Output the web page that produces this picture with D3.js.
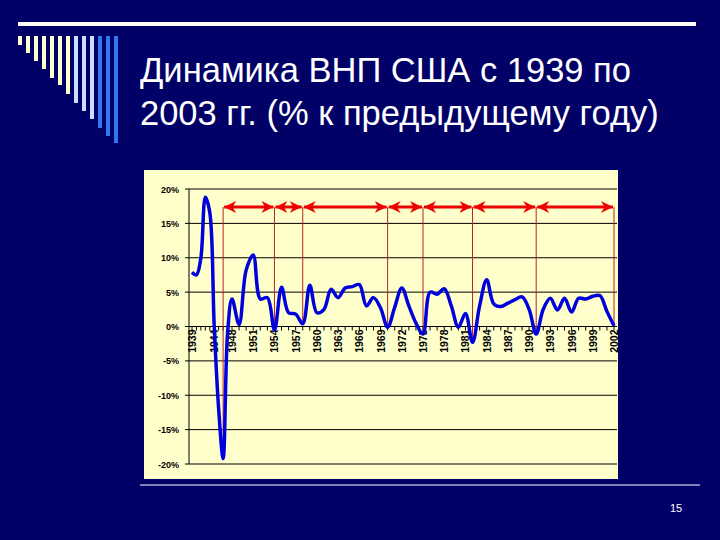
<!DOCTYPE html>
<html><head><meta charset="utf-8">
<script src="https://cdn.jsdelivr.net/npm/d3@7"></script>
<style>body{margin:0;background:#000066}svg{display:block}</style>
</head><body>
<svg id="c" width="720" height="540"></svg>
<script>
const years = d3.range(1939, 2003);
const values = [7.9,7.5,10,18.8,16.6,0,-12,-19.2,-1,4,0.3,8.2,10.4,4,4.2,-0.5,5.7,2,1.8,0.4,6,2,2.5,5.4,4.2,5.6,5.8,6.1,3,4.2,2.7,-0.1,2.8,5.6,3.0,0.5,-1.1,5,4.7,5.5,3,-0.1,1.9,-2.3,3,6.8,3.3,2.9,3.4,3.9,4.3,2.5,-1.1,2.5,4.1,2.4,4.1,2.1,4.1,4.0,4.4,4.5,2.2,0.1];
const tickYears = [1939,1944,1948].concat(d3.range(1951, 2003, 3));
const yTicks = [20,15,10,5,0,-5,-10,-15,-20];
const cycleYears = [1946,1954,1958,1970,1975,1982,1991,2002];
const title = ["Динамика ВНП США с 1939 по","2003 гг. (% к предыдущему году)"];

const svg = d3.select("#c");
svg.append("rect").attr("x",18).attr("y",22).attr("width",678).attr("height",4).attr("fill","#fff");
const barBottoms=[45,53,61,69,78,85,94,103,111,119,128,136,143];
barBottoms.forEach((b,i)=>svg.append("rect").attr("x",18+i*8).attr("y",36).attr("width",4).attr("height",b-36)
  .attr("fill", i<7?"#FFFFCC":(i<10?"#CCDDFF":"#3377EE")));
title.forEach((t,i)=>svg.append("text").attr("x",140).attr("y",82+i*43).attr("fill","#fff")
  .attr("font-family","Liberation Sans, Arial").attr("font-size",34.5).text(t));
svg.append("line").attr("x1",140).attr("x2",700).attr("y1",485).attr("y2",485).attr("stroke","#fff").attr("stroke-width",1);
svg.append("text").attr("x",676).attr("y",512).attr("text-anchor","middle").attr("fill","#fff")
  .attr("font-family","Liberation Sans, Arial").attr("font-size",11).text("15");

svg.append("rect").attr("x",144).attr("y",170).attr("width",474).attr("height",309).attr("fill","#FFFFCC");
const x = d3.scaleLinear().domain([1939,1948,2002]).range([192,232,614]);
const y = d3.scaleLinear().domain([-20,20]).range([464,189]);
const g = svg.append("g");
yTicks.forEach(v=>{
  g.append("line").attr("x1",189).attr("x2",617).attr("y1",y(v)).attr("y2",y(v)).attr("stroke","#000").attr("stroke-width",1);
  g.append("text").attr("x",179).attr("y",y(v)+3.5).attr("text-anchor","end")
   .attr("font-family","Liberation Sans, Arial").attr("font-weight","bold").attr("font-size",9).text(v+"%");
  g.append("line").attr("x1",185).attr("x2",189).attr("y1",y(v)).attr("y2",y(v)).attr("stroke","#000");
});
g.append("line").attr("x1",189).attr("x2",189).attr("y1",y(20)).attr("y2",y(-20)).attr("stroke","#000");
years.forEach(yr=>g.append("line").attr("x1",x(yr)).attr("x2",x(yr)).attr("y1",y(0)).attr("y2",y(0)+4).attr("stroke","#000"));
tickYears.forEach(yr=>g.append("text").attr("transform",`translate(${x(yr)+4},${y(0)+3}) rotate(-90)`)
  .attr("text-anchor","end").attr("font-family","Liberation Sans, Arial").attr("font-weight","bold").attr("font-size",10.5).text(yr));

const ay = 207;
cycleYears.forEach(yr=>{
  const v = values[years.indexOf(yr)];
  g.append("line").attr("x1",x(yr)).attr("x2",x(yr)).attr("y1",ay).attr("y2",y(v)).attr("stroke","#B22").attr("stroke-width",1);
});
const defs = svg.append("defs");
defs.append("marker").attr("id","ah").attr("viewBox","0 0 10 10").attr("refX",10).attr("refY",5)
  .attr("markerWidth",4).attr("markerHeight",4).attr("orient","auto-start-reverse")
  .append("path").attr("d","M0,0 L10,5 L0,10 L3,5 Z").attr("fill","#E00");
for(let i=0;i<cycleYears.length-1;i++){
  g.append("line").attr("x1",x(cycleYears[i])+1).attr("x2",x(cycleYears[i+1])-1).attr("y1",ay).attr("y2",ay)
   .attr("stroke","#E00").attr("stroke-width",3).attr("marker-start","url(#ah)").attr("marker-end","url(#ah)");
}

g.append("path").datum(years.map((yr,i)=>[yr,values[i]]))
  .attr("d",d3.line().x(d=>x(d[0])).y(d=>y(d[1])).curve(d3.curveCatmullRom))
  .attr("fill","none").attr("stroke","#0000DD").attr("stroke-width",3.5).attr("stroke-linejoin","round");
</script>
</body></html>
